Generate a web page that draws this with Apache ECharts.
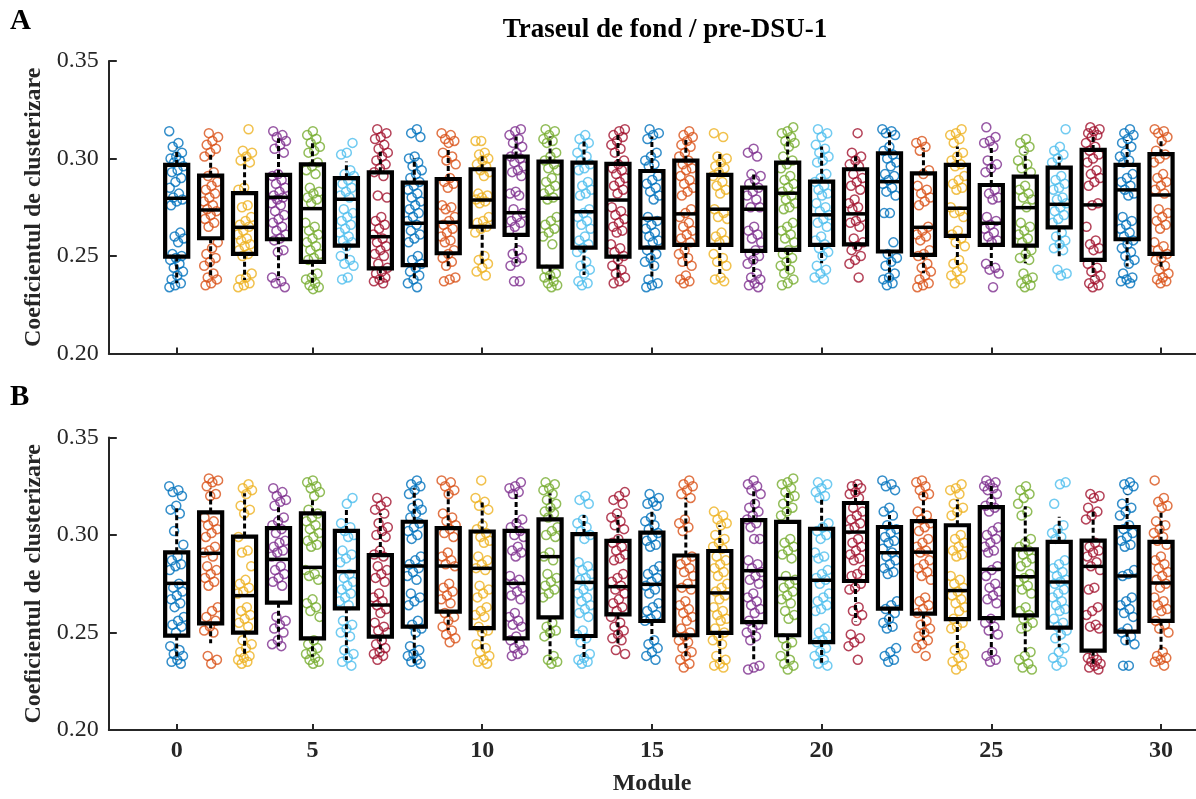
<!DOCTYPE html>
<html>
<head>
<meta charset="utf-8">
<title>Traseul de fond / pre-DSU-1</title>
<script src="https://cdn.jsdelivr.net/npm/echarts@6/dist/echarts.min.js"></script>
<style>
  html, body { margin: 0; padding: 0; background: #ffffff; }
  #chart { width: 1196px; height: 799px; }
</style>
</head>
<body>
<div id="chart"></div>
<script>
// Module positions 1..30 on the axis; ticks at these positions carry the labels below
const moduleTicks = [1, 5, 10, 15, 20, 25, 30];
const moduleTickLabels = ['0', '5', '10', '15', '20', '25', '30'];
const yTicks = [0.20, 0.25, 0.30, 0.35];
const moduleColors = ['#0072BD', '#D95319', '#EDB120', '#7E2F8E', '#77AC30', '#4DBEEE', '#A2142F'];

// Box statistics per module: [lower whisker, Q1, median, Q3, upper whisker]
const boxStatsA = [
  [.236, .2497, .2796, .2967, .305], [.2386, .2591, .2736, .2912, .3035], [.2377, .2511, .2647, .2822, .301],
  [.2377, .2586, .2801, .2916, .3104], [.236, .247, .2743, .297, .3095], [.248, .2553, .2791, .2899, .2985],
  [.2377, .2437, .2599, .2929, .3035], [.2386, .2453, .2668, .2876, .3001], [.2446, .2514, .2673, .2895, .3047],
  [.2446, .265, .2787, .2945, .3027], [.2463, .2608, .2722, .301, .3113], [.2377, .2446, .2796, .2984, .3113],
  [.2403, .2543, .2727, .2979, .3095], [.2377, .2497, .2787, .2972, .313], [.2386, .2543, .2693, .2936, .3113],
  [.2446, .2557, .2716, .2989, .3095], [.2403, .2557, .274, .2916, .3027], [.2394, .2526, .274, .2851, .2933],
  [.2411, .2531, .2822, .2979, .3113], [.2463, .2557, .2711, .2881, .3061], [.2531, .256, .2716, .2945, .3027],
  [.236, .2523, .2881, .3027, .3146], [.2411, .2506, .2647, .2924, .3052], [.2446, .2603, .2745, .2967, .3061],
  [.2446, .2557, .2668, .2864, .3061], [.2463, .2553, .2748, .2907, .3035], [.2497, .2647, .2765, .2953, .301],
  [.2394, .248, .2762, .3044, .313], [.2446, .2586, .2839, .2967, .3095], [.2429, .2511, .2813, .3022, .3095]
];

const boxStatsB = [
  [.2359, .2484, .2752, .2911, .3137], [.2445, .2547, .2906, .3116, .324], [.2376, .2499, .2689, .2992, .3214],
  [.2428, .2653, .2875, .3035, .3145], [.2376, .247, .2834, .3111, .318], [.2359, .2624, .2812, .3021, .3137],
  [.2393, .2479, .2641, .2897, .3111], [.2342, .253, .2841, .3068, .324], [.2513, .2607, .2841, .3035, .3231],
  [.241, .2522, .2829, .3018, .318], [.2428, .247, .2752, .3021, .3214], [.2359, .2578, .2889, .308, .3214],
  [.2368, .2482, .2757, .3005, .3103], [.2428, .2593, .2735, .297, .3103], [.2462, .2559, .2747, .3012, .3128],
  [.2363, .2486, .2736, .2895, .3191], [.2345, .2498, .2703, .2918, .305], [.2363, .2553, .2817, .3076, .3226],
  [.2345, .2486, .2777, .3067, .3217], [.2345, .2451, .2768, .3032, .3182], [.2556, .2764, .3015, .3164, .3261],
  [.253, .2622, .2909, .3041, .3103], [.246, .2597, .2912, .3071, .3226], [.2398, .2569, .2715, .305, .3182],
  [.238, .2574, .2824, .3143, .3253], [.2398, .2588, .2786, .2926, .3147], [.2424, .2525, .2759, .2965, .3094],
  [.2328, .2407, .2839, .2971, .312], [.2424, .2504, .279, .3041, .3208], [.2398, .256, .2754, .2965, .3129]
];

// Individual clustering coefficients per module (panel A)
const pointsA = [
  [.314,.308,.306,.303,.301,.300,.299,.298,.296,.294,.293,.290,.288,.285,.282,.280,.279,.278,.276,.262,.260,.259,.257,.251,.250,.249,.248,.246,.244,.242,.240,.238,.236,.235,.234],
  [.313,.311,.309,.307,.305,.303,.301,.293,.291,.288,.286,.284,.282,.280,.278,.276,.274,.273,.271,.269,.267,.265,.257,.254,.251,.249,.247,.245,.241,.239,.238,.236,.235],
  [.315,.304,.303,.301,.299,.298,.285,.284,.276,.275,.270,.268,.266,.265,.263,.261,.259,.258,.256,.255,.253,.251,.250,.241,.239,.238,.236,.235,.234],
  [.314,.312,.311,.309,.307,.305,.303,.292,.291,.289,.287,.285,.283,.281,.280,.279,.277,.276,.273,.271,.269,.267,.265,.263,.261,.259,.258,.253,.252,.239,.237,.236,.234],
  [.314,.312,.310,.308,.306,.304,.303,.298,.296,.294,.292,.285,.283,.282,.280,.279,.277,.267,.265,.263,.261,.259,.257,.255,.253,.251,.249,.248,.241,.239,.238,.236,.235,.234,.233],
  [.308,.303,.302,.294,.292,.291,.289,.287,.285,.283,.281,.280,.274,.272,.270,.268,.266,.264,.262,.260,.258,.257,.255,.250,.248,.246,.245,.239,.238],
  [.315,.313,.311,.310,.307,.305,.303,.301,.299,.297,.295,.293,.291,.281,.280,.270,.268,.266,.264,.261,.259,.257,.255,.253,.251,.250,.246,.244,.242,.241,.239,.238,.237,.236],
  [.315,.313,.311,.301,.300,.298,.296,.294,.292,.290,.288,.286,.284,.282,.280,.278,.276,.274,.272,.270,.268,.266,.263,.261,.259,.257,.250,.248,.246,.244,.242,.240,.238,.236,.234],
  [.313,.312,.310,.309,.308,.303,.301,.299,.297,.290,.288,.287,.285,.276,.275,.274,.270,.268,.266,.264,.262,.260,.258,.257,.253,.251,.249,.247,.245,.239,.238,.237],
  [.309,.309,.303,.302,.300,.299,.297,.296,.294,.293,.291,.282,.281,.280,.279,.278,.277,.270,.268,.267,.265,.264,.262,.250,.248,.246,.244,.242,.240],
  [.315,.314,.312,.310,.308,.306,.303,.301,.300,.298,.296,.294,.293,.291,.283,.282,.281,.274,.272,.270,.268,.267,.265,.263,.253,.251,.249,.247,.245,.237,.237],
  [.315,.314,.312,.310,.309,.308,.303,.301,.299,.297,.295,.294,.290,.288,.286,.284,.282,.280,.279,.270,.268,.266,.264,.262,.260,.256,.243,.241,.240,.239,.237,.236,.235,.234],
  [.312,.310,.308,.306,.303,.301,.299,.297,.295,.294,.288,.286,.284,.282,.281,.274,.272,.270,.268,.266,.264,.260,.258,.256,.254,.252,.247,.245,.243,.241,.237,.236,.235],
  [.315,.314,.312,.311,.309,.307,.305,.303,.299,.297,.295,.294,.292,.290,.288,.286,.284,.282,.275,.273,.271,.269,.267,.265,.263,.262,.256,.254,.252,.250,.248,.245,.243,.241,.239,.237,.236],
  [.315,.313,.312,.310,.303,.301,.299,.297,.296,.291,.289,.287,.285,.283,.281,.279,.270,.268,.266,.264,.262,.260,.258,.257,.253,.251,.249,.247,.245,.238,.236,.235,.234],
  [.314,.312,.311,.309,.307,.306,.303,.301,.299,.297,.295,.294,.291,.289,.287,.285,.283,.281,.274,.272,.270,.267,.265,.263,.261,.259,.257,.253,.251,.249,.247,.245,.240,.238,.237,.236],
  [.313,.311,.301,.300,.298,.296,.295,.293,.291,.288,.286,.284,.282,.274,.272,.270,.269,.262,.260,.258,.257,.251,.249,.247,.245,.239,.238,.237],
  [.305,.303,.301,.292,.291,.289,.287,.285,.283,.281,.279,.275,.275,.265,.263,.261,.259,.257,.253,.251,.250,.248,.246,.241,.239,.238,.236,.235,.234],
  [.316,.314,.313,.311,.309,.308,.306,.301,.299,.297,.295,.291,.289,.287,.285,.283,.281,.279,.277,.275,.274,.267,.265,.263,.261,.259,.257,.253,.251,.249,.247,.245,.243,.241,.238,.236,.235],
  [.315,.313,.311,.307,.305,.303,.301,.299,.298,.292,.290,.288,.286,.284,.282,.281,.277,.275,.273,.271,.269,.267,.265,.260,.258,.256,.254,.252,.250,.245,.243,.241,.239,.238],
  [.313,.303,.301,.299,.297,.296,.292,.290,.288,.286,.284,.279,.277,.275,.274,.270,.268,.267,.265,.259,.257,.255,.253,.250,.248,.246,.239],
  [.315,.314,.313,.312,.306,.304,.302,.300,.298,.296,.292,.291,.289,.287,.285,.283,.281,.272,.272,.257,.251,.249,.247,.245,.241,.239,.238,.236,.235],
  [.309,.308,.306,.304,.294,.292,.286,.284,.282,.280,.278,.276,.265,.263,.261,.260,.258,.253,.251,.250,.246,.244,.242,.240,.238,.236,.235,.234],
  [.315,.313,.312,.310,.308,.303,.301,.299,.297,.296,.291,.289,.287,.285,.284,.275,.273,.272,.270,.263,.261,.259,.257,.255,.248,.246,.244,.242,.240,.238,.236],
  [.316,.311,.309,.308,.306,.299,.297,.295,.293,.284,.282,.280,.279,.270,.268,.266,.264,.262,.260,.258,.257,.246,.244,.243,.241,.234],
  [.310,.308,.306,.304,.299,.297,.295,.293,.286,.284,.282,.280,.279,.275,.267,.265,.263,.261,.259,.257,.253,.251,.249,.248,.241,.239,.238,.236,.235,.234],
  [.315,.306,.304,.302,.300,.298,.291,.289,.287,.285,.284,.280,.279,.277,.275,.273,.271,.269,.267,.262,.260,.258,.256,.254,.253,.243,.241,.240],
  [.316,.315,.314,.313,.312,.311,.308,.306,.304,.302,.300,.298,.294,.292,.290,.288,.286,.277,.276,.265,.258,.256,.254,.253,.246,.244,.242,.240,.238,.236,.235,.234],
  [.315,.313,.312,.310,.308,.306,.303,.301,.299,.298,.292,.290,.288,.286,.284,.282,.281,.270,.268,.266,.264,.262,.260,.258,.256,.254,.252,.250,.248,.246,.241,.239,.238,.237,.236],
  [.315,.314,.313,.311,.309,.304,.302,.300,.298,.292,.290,.288,.286,.284,.282,.274,.272,.270,.268,.266,.264,.257,.255,.253,.251,.249,.248,.245,.243,.241,.239,.238,.237,.236]
];

// Individual clustering coefficients per module (panel B)
const pointsB = [
  [.325,.323,.322,.320,.315,.313,.311,.302,.295,.289,.287,.285,.284,.282,.275,.273,.271,.269,.267,.265,.263,.258,.256,.254,.253,.250,.243,.241,.239,.238,.236,.235,.234],
  [.329,.328,.327,.325,.321,.320,.309,.307,.305,.303,.301,.299,.294,.292,.291,.289,.284,.282,.280,.278,.276,.274,.263,.261,.258,.256,.253,.251,.250,.238,.236,.234],
  [.326,.324,.323,.321,.315,.313,.311,.299,.292,.291,.284,.277,.275,.273,.271,.270,.263,.261,.259,.257,.255,.253,.246,.244,.242,.240,.238,.237,.236,.235,.234],
  [.324,.322,.320,.318,.317,.315,.309,.307,.305,.303,.301,.297,.296,.294,.292,.291,.289,.284,.282,.280,.278,.276,.274,.258,.256,.254,.252,.250,.246,.244,.243],
  [.328,.327,.325,.324,.322,.320,.313,.311,.309,.307,.305,.303,.301,.299,.297,.295,.294,.282,.280,.279,.277,.267,.265,.263,.261,.258,.246,.244,.242,.240,.239,.237,.236,.235,.234],
  [.319,.316,.306,.304,.302,.300,.299,.292,.290,.288,.286,.280,.278,.276,.274,.272,.270,.268,.266,.264,.256,.254,.252,.250,.248,.241,.239,.237,.235,.233],
  [.319,.317,.315,.313,.311,.306,.304,.302,.300,.299,.292,.290,.289,.284,.282,.280,.278,.276,.270,.268,.266,.264,.262,.260,.255,.253,.251,.250,.246,.244,.242,.240,.239,.238,.236],
  [.328,.326,.325,.323,.321,.316,.314,.313,.311,.309,.306,.304,.302,.300,.298,.289,.287,.285,.283,.281,.279,.277,.270,.268,.266,.264,.256,.254,.252,.250,.243,.241,.239,.238,.236,.235,.234],
  [.328,.327,.325,.323,.321,.311,.309,.307,.305,.303,.301,.299,.291,.289,.287,.285,.284,.275,.273,.271,.269,.267,.265,.260,.258,.256,.253,.251,.249,.247,.245],
  [.328,.319,.317,.315,.313,.305,.303,.301,.299,.297,.296,.289,.287,.285,.283,.282,.274,.272,.270,.268,.263,.261,.259,.258,.253,.251,.250,.244,.242,.240,.238,.236,.235,.234],
  [.327,.325,.324,.322,.321,.308,.306,.304,.302,.300,.299,.294,.292,.291,.289,.279,.277,.275,.273,.271,.269,.267,.260,.258,.256,.254,.253,.248,.246,.244,.242,.241,.239,.238],
  [.327,.326,.324,.323,.321,.318,.316,.314,.312,.311,.309,.304,.302,.300,.299,.291,.289,.287,.280,.278,.276,.274,.272,.270,.268,.255,.253,.251,.250,.248,.238,.236,.235,.234],
  [.320,.318,.316,.308,.306,.304,.302,.300,.298,.286,.284,.282,.280,.278,.277,.274,.272,.270,.268,.266,.264,.262,.260,.258,.251,.249,.247,.245,.239,.237,.236,.235,.234],
  [.322,.320,.318,.316,.311,.309,.307,.305,.303,.298,.296,.294,.292,.290,.288,.287,.280,.278,.276,.274,.272,.270,.267,.265,.263,.261,.258,.255,.253,.251,.249,.247,.246,.241,.239],
  [.321,.319,.317,.316,.315,.309,.307,.305,.303,.301,.299,.297,.295,.294,.284,.282,.280,.278,.276,.274,.272,.270,.265,.263,.261,.259,.257,.256,.246,.244,.242,.240,.238,.236],
  [.328,.326,.325,.323,.321,.319,.308,.306,.304,.302,.289,.287,.285,.283,.281,.279,.275,.273,.272,.266,.264,.262,.260,.258,.256,.252,.250,.248,.246,.245,.242,.240,.238,.236,.234,.232],
  [.312,.310,.308,.306,.305,.300,.298,.296,.294,.293,.289,.287,.285,.283,.281,.279,.275,.273,.271,.269,.267,.263,.261,.259,.257,.256,.252,.250,.248,.246,.244,.238,.236,.234,.233,.232],
  [.328,.326,.325,.323,.321,.316,.314,.312,.310,.308,.306,.304,.298,.298,.287,.285,.283,.281,.279,.277,.275,.270,.268,.266,.264,.262,.260,.256,.254,.252,.250,.248,.246,.233,.232,.231],
  [.329,.327,.326,.324,.322,.320,.319,.316,.314,.312,.310,.298,.296,.294,.292,.290,.288,.279,.277,.275,.273,.271,.269,.267,.265,.261,.259,.257,.247,.245,.243,.238,.236,.234,.233,.231],
  [.327,.326,.324,.322,.320,.319,.306,.304,.302,.300,.298,.291,.289,.288,.282,.280,.278,.277,.275,.270,.268,.266,.264,.262,.261,.252,.250,.248,.246,.245,.242,.240,.238,.236,.234,.233],
  [.326,.325,.324,.322,.321,.319,.314,.312,.310,.308,.306,.304,.303,.298,.296,.294,.292,.290,.288,.287,.282,.280,.279,.275,.273,.272,.263,.261,.259,.256,.249,.247,.245,.243,.236],
  [.328,.326,.325,.323,.314,.312,.310,.305,.303,.301,.299,.297,.296,.293,.291,.289,.287,.285,.283,.281,.280,.266,.264,.262,.260,.257,.255,.253,.252,.242,.240,.238,.236,.235],
  [.328,.327,.325,.323,.321,.320,.312,.310,.308,.306,.304,.302,.298,.296,.294,.292,.291,.287,.285,.283,.281,.279,.277,.268,.266,.264,.262,.260,.256,.254,.252,.250,.248,.246,.244,.242,.238],
  [.326,.324,.323,.321,.316,.314,.312,.310,.300,.298,.296,.294,.292,.290,.289,.279,.277,.275,.273,.271,.269,.267,.265,.263,.261,.257,.255,.253,.252,.243,.241,.239,.237,.235,.233,.231],
  [.328,.327,.326,.325,.324,.323,.321,.317,.315,.314,.312,.304,.302,.300,.298,.296,.294,.292,.291,.284,.282,.279,.275,.273,.271,.269,.267,.265,.257,.255,.253,.251,.249,.240,.238,.236,.235],
  [.325,.323,.321,.319,.316,.312,.310,.298,.296,.294,.292,.290,.288,.286,.284,.280,.278,.276,.274,.272,.270,.263,.261,.259,.257,.255,.253,.252,.240,.238,.236,.234,.232,.231],
  [.327,.326,.316,.305,.303,.301,.299,.298,.287,.285,.283,.281,.279,.277,.276,.275,.272,.270,.268,.266,.264,.262,.261,.257,.255,.253,.251,.249,.247,.242,.240,.237,.235,.233],
  [.321,.320,.319,.314,.312,.310,.308,.296,.294,.292,.291,.289,.286,.284,.282,.273,.272,.263,.261,.259,.254,.253,.252,.238,.237,.236,.235,.234,.233,.232,.231],
  [.327,.326,.325,.323,.316,.314,.312,.310,.305,.303,.301,.299,.297,.295,.294,.282,.280,.279,.268,.266,.264,.262,.260,.258,.252,.250,.248,.246,.244,.233,.233],
  [.328,.319,.317,.315,.314,.307,.305,.303,.301,.299,.297,.295,.289,.287,.285,.283,.281,.279,.277,.275,.273,.268,.266,.264,.262,.261,.256,.254,.252,.250,.240,.238,.237,.236,.235,.233]
];

const SERIF = '"Liberation Serif", "Times New Roman", "DejaVu Serif", serif';
const AXIS_COLOR = '#262626';

// Horizontal spread of the scattered circles around each module position (axis units)
const JITTER_WIDTH = 0.44;
function jitter(moduleIdx, k) {
  const f = (k * 0.618034 + moduleIdx * 0.3819) % 1;
  return (f - 0.5) * JITTER_WIDTH;
}

function scatterData(points) {
  const out = [];
  points.forEach((vals, m) => {
    const pos = m + 1;
    const col = moduleColors[m % moduleColors.length];
    vals.forEach((v, k) => {
      out.push({ value: [pos + jitter(m, k), v], itemStyle: { borderColor: col } });
    });
  });
  return out;
}

function boxData(stats) {
  return stats.map((s, m) => [m + 1, s[0], s[1], s[2], s[3], s[4]]);
}

// Box with dashed whiskers and a median bar, drawn on the cartesian scales
function renderBox(params, api) {
  const x = api.value(0);
  const halfW = api.size([1, 0])[0] * 0.34;
  const low = api.coord([x, api.value(1)]);
  const q1 = api.coord([x, api.value(2)]);
  const med = api.coord([x, api.value(3)]);
  const q3 = api.coord([x, api.value(4)]);
  const high = api.coord([x, api.value(5)]);
  const cx = q1[0];
  const whiskerStyle = { stroke: '#000', lineWidth: 3, lineDash: [5, 3] };
  return {
    type: 'group',
    children: [
      { type: 'line', shape: { x1: cx, y1: q3[1], x2: cx, y2: high[1] }, style: whiskerStyle },
      { type: 'line', shape: { x1: cx, y1: q1[1], x2: cx, y2: low[1] }, style: whiskerStyle },
      { type: 'rect', shape: { x: cx - halfW, y: q3[1], width: 2 * halfW, height: q1[1] - q3[1] },
        style: { fill: 'none', stroke: '#000', lineWidth: 4.2 } },
      { type: 'line', shape: { x1: cx - halfW, y1: med[1], x2: cx + halfW, y2: med[1] },
        style: { stroke: '#000', lineWidth: 3.5 } }
    ]
  };
}

const X_MIN = -1, X_MAX = 31.03;
const GRID_LEFT = 108.8, PANEL_H = 292.5;

function makeXAxis(gridIndex, showLabels) {
  return {
    type: 'value', gridIndex, min: X_MIN, max: X_MAX,
    axisLine: { show: true, onZero: false, lineStyle: { color: AXIS_COLOR, width: 2 } },
    axisTick: { show: true, inside: true, length: 6, customValues: moduleTicks,
      lineStyle: { color: AXIS_COLOR, width: 2 } },
    axisLabel: {
      show: showLabels, customValues: moduleTicks, margin: 9,
      formatter: v => moduleTickLabels[moduleTicks.indexOf(Math.round(v))] ?? '',
      fontFamily: SERIF, fontWeight: 'bold', fontSize: 24, color: AXIS_COLOR
    },
    splitLine: { show: false }
  };
}

function makeYAxis(gridIndex) {
  return {
    type: 'value', gridIndex, min: yTicks[0], max: yTicks[yTicks.length - 1], interval: 0.05,
    name: 'Coeficientul de clusterizare', nameLocation: 'middle', nameGap: 55,
    nameTextStyle: { fontFamily: SERIF, fontWeight: 'bold', fontSize: 24, color: AXIS_COLOR },
    axisLine: { show: true, onZero: false, lineStyle: { color: AXIS_COLOR, width: 2 } },
    axisTick: { show: true, inside: true, length: 8, lineStyle: { color: AXIS_COLOR, width: 2 } },
    axisLabel: { formatter: v => v.toFixed(2), margin: 10,
      fontFamily: SERIF, fontSize: 24, color: AXIS_COLOR },
    splitLine: { show: false }
  };
}

function makeScatter(idx, points) {
  return {
    type: 'scatter', xAxisIndex: idx, yAxisIndex: idx, z: 2,
    symbol: 'circle', symbolSize: 9,
    itemStyle: { color: 'rgba(255,255,255,0)', borderWidth: 1.5 },
    emphasis: { disabled: true },
    data: scatterData(points)
  };
}

function makeBoxes(idx, stats) {
  return {
    type: 'custom', xAxisIndex: idx, yAxisIndex: idx, z: 3,
    renderItem: renderBox,
    encode: { x: 0, y: [1, 2, 3, 4, 5] },
    data: boxData(stats)
  };
}

const chart = echarts.init(document.getElementById('chart'), null, { renderer: 'canvas' });
chart.setOption({
  animation: false,
  backgroundColor: '#ffffff',
  grid: [
    { left: GRID_LEFT, right: 0, top: 61, height: PANEL_H, containLabel: false, outerBoundsMode: 'none' },
    { left: GRID_LEFT, right: 0, top: 437.5, height: PANEL_H, containLabel: false, outerBoundsMode: 'none' }
  ],
  xAxis: [makeXAxis(0, false), makeXAxis(1, true)],
  yAxis: [makeYAxis(0), makeYAxis(1)],
  series: [
    makeScatter(0, pointsA), makeBoxes(0, boxStatsA),
    makeScatter(1, pointsB), makeBoxes(1, boxStatsB)
  ],
  graphic: [
    { type: 'text', left: 10, top: 7,
      style: { text: 'A', font: 'bold 29px ' + SERIF, fill: '#000' } },
    { type: 'text', left: 10, top: 383,
      style: { text: 'B', font: 'bold 29px ' + SERIF, fill: '#000' } },
    { type: 'text', x: 665, y: 30,
      style: { text: 'Traseul de fond / pre-DSU-1', font: 'bold 27px ' + SERIF, fill: '#000',
        textAlign: 'center', textVerticalAlign: 'middle' } },
    { type: 'text', x: 652, y: 784,
      style: { text: 'Module', font: 'bold 24px ' + SERIF, fill: AXIS_COLOR,
        textAlign: 'center', textVerticalAlign: 'middle' } }
  ]
});
</script>
</body>
</html>
